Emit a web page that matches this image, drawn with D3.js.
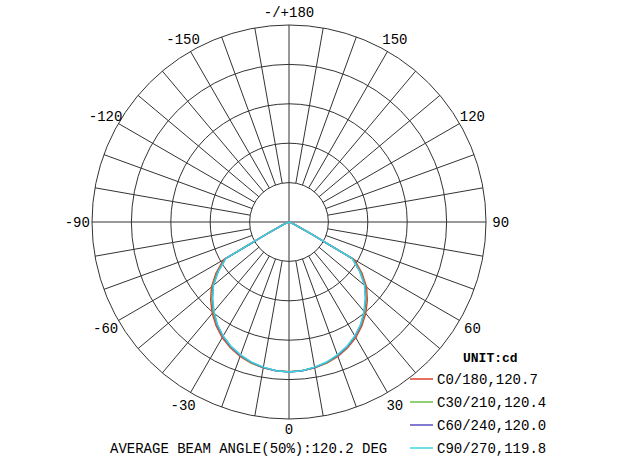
<!DOCTYPE html>
<html><head><meta charset="utf-8">
<script src="https://cdn.jsdelivr.net/npm/d3@7"></script>
<style>body{margin:0;background:#fff}</style>
</head><body>
<svg id="chart" width="628" height="473"></svg>
<script>
// angles (deg from nadir) and intensities (cd), one-sided; mirrored for the other half
var angles = [0, 5, 10, 15, 20, 25, 30, 35, 40, 45, 50, 55, 60, 62, 65, 70, 80, 90];
var c0   = [380, 379, 376, 371, 363, 352, 339, 322, 303, 281, 257, 226, 192, 60, 20, 6, 2, 0];
var c30  = [380, 379, 375, 370, 361, 350, 336, 319, 299, 277, 253, 222, 188, 58, 18, 6, 2, 0];
var c60  = [381, 379, 375, 369, 360, 349, 335, 318, 297, 275, 251, 220, 186, 56, 18, 6, 2, 0];
var c90  = [381, 379, 374, 368, 359, 348, 334, 317, 296, 274, 250, 219, 185, 55, 17, 5, 2, 0];
var seriesNames = ["C0/180,120.7", "C30/210,120.4", "C60/240,120.0", "C90/270,119.8"];
var seriesColors = ["#e0402a", "#6cc04a", "#5a4fc0", "#40d4e0"];
var angleLabels = [-150, -120, -90, -60, -30, 0, 30, 60, 90, 120, 150];
var maxValue = 500;

var svg = d3.select("#chart");
var cx = 289, cy = 222, R = 197;
var r = d3.scaleLinear().domain([0, maxValue]).range([0, R]);
var g = svg.append("g").attr("transform", "translate(" + cx + "," + cy + ")");

// point from angle measured from downward, positive to the right
var pt = function(deg, v) {
    var a = deg * Math.PI / 180;
    return [r(v) * Math.sin(a), r(v) * Math.cos(a)];
};

var rings = d3.range(1, 6).map(function(i) { return maxValue * i / 5; });
g.selectAll("circle.ring").data(rings).enter().append("circle")
  .attr("r", function(d) { return r(d); })
  .attr("fill", "none").attr("stroke", "#333").attr("stroke-width", 1);

var spokes = d3.range(0, 360, 10);
g.selectAll("line.spoke").data(spokes).enter().append("line")
  .attr("x1", function(d) { return pt(d, d % 90 === 0 ? 0 : rings[0])[0]; })
  .attr("y1", function(d) { return pt(d, d % 90 === 0 ? 0 : rings[0])[1]; })
  .attr("x2", function(d) { return pt(d, maxValue)[0]; })
  .attr("y2", function(d) { return pt(d, maxValue)[1]; })
  .attr("stroke", "#333").attr("stroke-width", 1);

var font = "'Liberation Mono', 'DejaVu Sans Mono', monospace";
var labelPos = function(d) {
    return pt(d, maxValue * (Math.abs(d) === 0 ? 1.05 : 1.075));
};
g.selectAll("text.ang").data(angleLabels).enter().append("text")
  .attr("x", function(d) { return labelPos(d)[0]; })
  .attr("y", function(d) { return labelPos(d)[1] + 5; })
  .attr("text-anchor", "middle")
  .attr("font-family", font).attr("font-size", 14)
  .text(function(d) { return d; });
g.append("text").attr("x", 0).attr("y", -R - 8).attr("text-anchor", "middle")
  .attr("font-family", font).attr("font-size", 14).text("-/+180");

var line = d3.line();
[c0, c30, c60, c90].forEach(function(vals, i) {
    var pts = [];
    for (var k = angles.length - 1; k > 0; k--) pts.push(pt(-angles[k], vals[k]));
    for (var k = 0; k < angles.length; k++) pts.push(pt(angles[k], vals[k]));
    g.append("path").attr("d", line(pts))
      .attr("fill", "none").attr("stroke", seriesColors[i]).attr("stroke-width", 1.5);
});

// legend
svg.append("text").attr("x", 463).attr("y", 362).attr("font-family", font)
  .attr("font-size", 13).attr("font-weight", "bold").text("UNIT:cd");
seriesNames.forEach(function(n, i) {
    var y = 379 + i * 23;
    svg.append("line").attr("x1", 410).attr("x2", 433).attr("y1", y).attr("y2", y)
      .attr("stroke", seriesColors[i]).attr("stroke-width", 1.5);
    svg.append("text").attr("x", 437).attr("y", y + 5).attr("font-family", font)
      .attr("font-size", 14).text(n);
});

svg.append("text").attr("x", 110).attr("y", 453).attr("font-family", font)
  .attr("font-size", 14).text("AVERAGE BEAM ANGLE(50%):120.2 DEG");
</script>
</body></html>
